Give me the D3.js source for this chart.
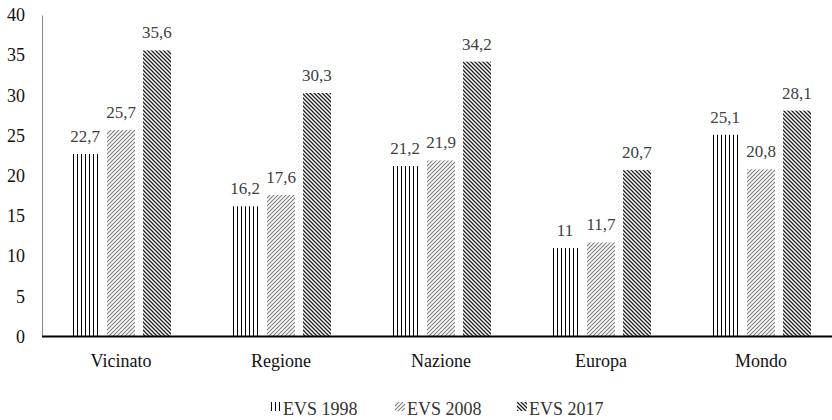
<!DOCTYPE html>
<html>
<head>
<meta charset="utf-8">
<script src="https://cdn.jsdelivr.net/npm/d3@7"></script>
<style>
  body { margin: 0; background: #fff; }
  svg text { font-family: 'Liberation Serif', 'Times New Roman', 'DejaVu Serif', serif !important; }
</style>
</head>
<body>
<svg id="chart" width="832" height="420"></svg>
<script>
var categories = ["Vicinato", "Regione", "Nazione", "Europa", "Mondo"];
var seriesNames = ["EVS 1998", "EVS 2008", "EVS 2017"];
var evs1998 = [22.7, 16.2, 21.2, 11, 25.1];
var evs2008 = [25.7, 17.6, 21.9, 11.7, 20.8];
var evs2017 = [35.6, 30.3, 34.2, 20.7, 28.1];
var yTicks = [0, 5, 10, 15, 20, 25, 30, 35, 40];

var series = [evs1998, evs2008, evs2017];
var width = 832, height = 420;
var svg = d3.select("#chart");

// patterns
var defs = svg.append("defs");
var p1 = defs.append("pattern").attr("id", "p0")
  .attr("patternUnits", "userSpaceOnUse").attr("width", 4).attr("height", 4);
p1.append("path").attr("d", "M0.5,0 V4").attr("stroke", "#000").attr("stroke-width", 1);

var p2 = defs.append("pattern").attr("id", "p1")
  .attr("patternUnits", "userSpaceOnUse").attr("width", 4).attr("height", 4);
p2.append("path").attr("d", "M-1,1 L1,-1 M0,4 L4,0 M3,5 L5,3")
  .attr("stroke", "#7a7a7a").attr("stroke-width", 1.1);

var p3 = defs.append("pattern").attr("id", "p2")
  .attr("patternUnits", "userSpaceOnUse").attr("width", 4).attr("height", 4);
p3.append("path").attr("d", "M-1,3 L1,5 M0,0 L4,4 M3,-1 L5,1")
  .attr("stroke", "#1a1a1a").attr("stroke-width", 1.25);

var x = d3.scaleBand().domain(categories).range([41, 841]);
var xInner = d3.scaleBand().domain([0, 1, 2]).range([30, 130]).paddingInner(0.222);
var y = d3.scaleLinear().domain([0, 40]).range([336.5, 15]);

var fmt = d3.formatLocale({decimal: ",", thousands: ".", grouping: [3], currency: ["", "€"]}).format("~");

// y axis
var yAxis = svg.append("g").attr("transform", "translate(42,0)")
  .call(d3.axisLeft(y).tickValues(yTicks).tickSize(0).tickPadding(17).tickFormat(d3.format("d")));
yAxis.select(".domain").attr("stroke", "#888").attr("stroke-width", 1);
yAxis.selectAll("text").attr("font-size", 18).attr("fill", "#111");

// bars
var groups = svg.selectAll("g.grp").data(categories).enter().append("g")
  .attr("class", "grp")
  .attr("transform", function(d) { return "translate(" + x(d) + ",0)"; });

groups.selectAll("rect").data(function(d, i) {
    return series.map(function(s, k) { return {k: k, v: s[i]}; });
  }).enter().append("rect")
  .attr("x", function(d) { return xInner(d.k); })
  .attr("y", function(d) { return y(d.v); })
  .attr("width", xInner.bandwidth())
  .attr("height", function(d) { return y(0) - y(d.v); })
  .attr("fill", function(d) { return "url(#p" + d.k + ")"; });

groups.selectAll("text.val").data(function(d, i) {
    return series.map(function(s, k) { return {k: k, v: s[i]}; });
  }).enter().append("text")
  .attr("class", "val")
  .attr("x", function(d) { return xInner(d.k) + xInner.bandwidth() / 2; })
  .attr("y", function(d) { return y(d.v) - 12; })
  .attr("text-anchor", "middle")
  .attr("font-size", 17)
  .attr("fill", "#404040")
  .text(function(d) { return fmt(d.v); });

// x axis
var xAxis = svg.append("g").attr("transform", "translate(0," + y(0) + ")")
  .call(d3.axisBottom(x).tickSize(0).tickPadding(18));
xAxis.select(".domain").remove();
xAxis.append("line").attr("x1", 42).attr("x2", width).attr("y1", 0).attr("y2", 0)
  .attr("stroke", "#000").attr("stroke-width", 2);
xAxis.selectAll("text").attr("font-size", 18).attr("fill", "#111");

// legend
var legendX = [271, 395, 517];
var legend = svg.selectAll("g.leg").data(seriesNames).enter().append("g")
  .attr("class", "leg")
  .attr("transform", function(d, i) { return "translate(" + legendX[i] + ",402)"; });
legend.append("rect").attr("width", 10).attr("height", 9)
  .attr("fill", function(d, i) { return "url(#p" + i + ")"; });
legend.append("text").attr("x", 12).attr("y", 13)
  .attr("font-size", 18).attr("fill", "#333")
  .text(function(d) { return d; });
</script>
</body>
</html>
